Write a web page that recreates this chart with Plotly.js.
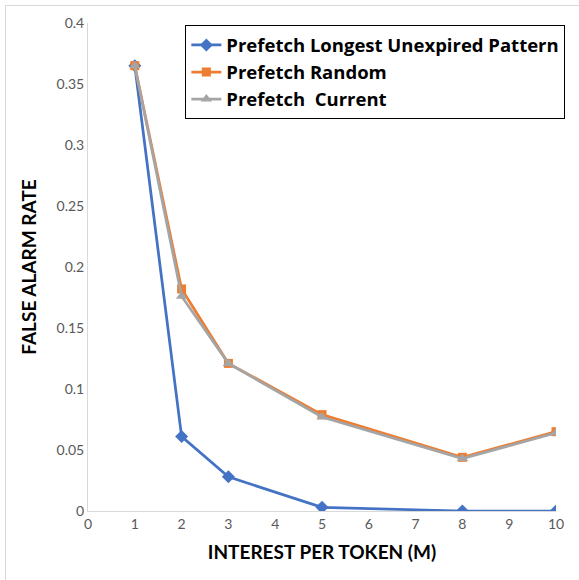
<!DOCTYPE html>
<html>
<head>
<meta charset="utf-8">
<script src="https://cdn.plot.ly/plotly-3.0.1.min.js"></script>
<style>
  html, body { margin: 0; padding: 0; background: #fff; }
  #wrap { position: relative; width: 579px; height: 580px; }
  #frame { position: absolute; left: 5px; top: 5px; width: 590px; height: 590px;
           border-left: 1px solid #d9d9d9; border-top: 1px solid #d9d9d9; pointer-events: none; }
  #chart { position: absolute; left: 0; top: 0; width: 579px; height: 580px; }
</style>
</head>
<body>
<div id="wrap">
  <div id="chart"></div>
  <div id="frame"></div>
</div>
<script>
// Interest per token (M)
const interest = [1, 2, 3, 5, 8, 10];
// False alarm rate per prefetch strategy
const longestUnexpired = [0.365, 0.061, 0.028, 0.003, 0.0, 0.0];
const randomPrefetch   = [0.365, 0.182, 0.121, 0.079, 0.044, 0.065];
const currentPrefetch  = [0.365, 0.176, 0.121, 0.077, 0.043, 0.064];
const xTicks = [0, 1, 2, 3, 4, 5, 6, 7, 8, 9, 10];
const yTicks = [0, 0.05, 0.1, 0.15, 0.2, 0.25, 0.3, 0.35, 0.4];
const yTickText = ['0', '0.05', '0.1', '0.15', '0.2', '0.25', '0.3', '0.35', '0.4'];

const names = ['Prefetch Longest Unexpired Pattern', 'Prefetch Random', 'Prefetch  Current'];

const traces = [
  {
    x: interest, y: longestUnexpired, name: names[0], mode: 'lines+markers',
    line: { color: '#4472C4', width: 2.75 },
    marker: { symbol: 'diamond', size: 10, color: '#4472C4' }
  },
  {
    x: interest, y: randomPrefetch, name: names[1], mode: 'lines+markers',
    line: { color: '#ED7D31', width: 2.75 },
    marker: { symbol: 'square', size: 9, color: '#ED7D31' }
  },
  {
    x: interest, y: currentPrefetch, name: names[2], mode: 'lines+markers',
    line: { color: '#A5A5A5', width: 2.75 },
    marker: { symbol: 'triangle-up', size: 10, color: '#A5A5A5' }
  }
];

const titleFont = { family: 'Lato, sans-serif', size: 19, color: '#000000', weight: 'bold' };

const layout = {
  width: 579, height: 580,
  margin: { l: 88, r: 23, t: 23, b: 69 },
  paper_bgcolor: '#ffffff', plot_bgcolor: '#ffffff',
  font: { family: 'Lato, "Open Sans", sans-serif', color: '#595959' },
  showlegend: true,
  legend: {
    x: 0.208, y: 0.995, xanchor: 'left', yanchor: 'top',
    bgcolor: '#ffffff', bordercolor: '#000000', borderwidth: 1,
    font: { family: '"Open Sans", sans-serif', size: 18.5, color: '#000000', weight: 'bold' },
    tracegroupgap: 0, itemwidth: 30,
    traceorder: 'normal'
  },
  xaxis: {
    range: [0, 10], tickvals: xTicks, ticktext: xTicks.map(String),
    showgrid: false, zeroline: false, showline: true, linecolor: '#d9d9d9', linewidth: 1,
    ticks: '', tickfont: { size: 14, color: '#595959' },
    title: { text: 'INTEREST PER TOKEN (M)', standoff: 14, font: titleFont }
  },
  yaxis: {
    range: [0, 0.4], tickvals: yTicks, ticktext: yTickText,
    showgrid: false, zeroline: false, showline: true, linecolor: '#d9d9d9', linewidth: 1,
    ticks: '', ticklen: 0, tickfont: { size: 14, color: '#595959' },
    title: { text: 'FALSE ALARM RATE', standoff: 14, font: titleFont }
  }
};

Plotly.newPlot('chart', traces, layout, { displayModeBar: false, staticPlot: true });
</script>
</body>
</html>
